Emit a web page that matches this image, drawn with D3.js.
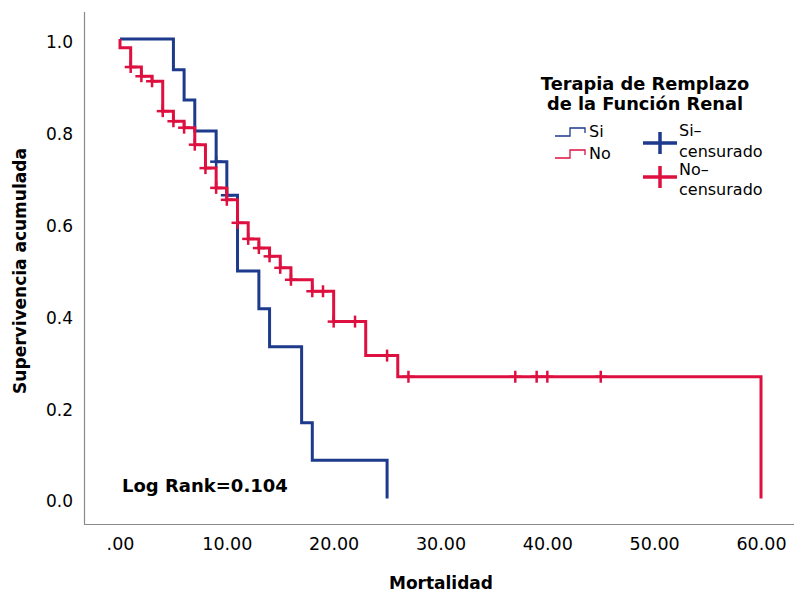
<!DOCTYPE html>
<html>
<head>
<meta charset="utf-8">
<script src="https://d3js.org/d3.v7.min.js"></script>
<style>
body { margin: 0; background: #fff; }
text { font-family: "DejaVu Sans", sans-serif; fill: #000; }
</style>
</head>
<body>
<script>
// Kaplan-Meier, Terapia de Remplazo de la Función Renal
var siTimes = [0, 5, 6, 7, 9, 10, 11, 13, 14, 17, 18, 25];
var siSurv  = [1, 0.933, 0.867, 0.8, 0.733, 0.66, 0.495, 0.413, 0.33, 0.165, 0.083, 0];
var siCens  = [9, 10];

var noTimes = [0, 0, 1, 2, 3, 4, 5, 6, 7, 8, 9, 10, 11, 12, 13, 14, 15, 16, 18, 20, 23, 26, 60];
var noSurv  = [1, 0.981, 0.939, 0.919, 0.908, 0.843, 0.821, 0.807, 0.770, 0.719, 0.676, 0.650, 0.600, 0.565, 0.545, 0.527, 0.502, 0.476, 0.451, 0.385, 0.311, 0.265, 0];
var noCens  = [1, 2, 3, 4, 5, 6, 7, 8, 9, 10, 11, 12, 13, 14, 15, 16, 18, 19, 20, 22, 25, 27, 37, 39, 40, 45];

var xTicks = [0, 10, 20, 30, 40, 50, 60];
var yTicks = [0, 0.2, 0.4, 0.6, 0.8, 1.0];
var groups = ["Si", "No"];
var censLabels = [["Si\u2013", "censurado"], ["No\u2013", "censurado"]];
var colors = ["#1d3a8c", "#dd1040"];

const W = 794, H = 593;
const svg = d3.select("body").append("svg")
  .attr("width", W).attr("height", H);

var x = d3.scaleLinear().domain([0, 60]).range([120, 761]);
var y = d3.scaleLinear().domain([0, 1]).range([498.5, 39]);

// axis frame (left + bottom)
svg.append("line").attr("x1", 84.5).attr("x2", 84.5).attr("y1", 12).attr("y2", 524.5)
  .attr("stroke", "#8a8a8a").attr("stroke-width", 1.2);
svg.append("line").attr("x1", 84).attr("x2", W).attr("y1", 524.5).attr("y2", 524.5)
  .attr("stroke", "#8a8a8a").attr("stroke-width", 1.2);

// tick labels
var xAxis = d3.axisBottom(x).tickValues(xTicks).tickSize(0).tickPadding(0)
  .tickFormat(function(d) { return d === 0 ? ".00" : d3.format(".2f")(d); });
var gx = svg.append("g").attr("transform", "translate(0,538)").call(xAxis);
gx.select(".domain").remove();
gx.selectAll("text").style("font-family", "DejaVu Sans").style("font-size", "17.5px").attr("fill", "#111");

var yAxis = d3.axisLeft(y).tickValues(yTicks).tickSize(0).tickPadding(0)
  .tickFormat(d3.format(".1f"));
var gy = svg.append("g").attr("transform", "translate(73,3)").call(yAxis);
gy.select(".domain").remove();
gy.selectAll("text").style("font-family", "DejaVu Sans").style("font-size", "17px").attr("fill", "#111");

// axis titles
svg.append("text").attr("x", 441).attr("y", 589).attr("text-anchor", "middle")
  .style("font-size", "17px").style("font-weight", "bold").text("Mortalidad");
svg.append("text").attr("transform", "translate(26,271) rotate(-90)").attr("text-anchor", "middle")
  .style("font-size", "17px").style("font-weight", "bold").text("Supervivencia acumulada");

// step curves
var line = d3.line().x(function(d) { return x(d[0]); }).y(function(d) { return y(d[1]); })
  .curve(d3.curveStepAfter);

function levelAt(times, surv, t) {
  var s = surv[0];
  for (var i = 0; i < times.length; i++) { if (times[i] <= t) s = surv[i]; }
  return s;
}

var series = [
  { times: siTimes, surv: siSurv, cens: siCens },
  { times: noTimes, surv: noSurv, cens: noCens }
];

series.forEach(function(s, k) {
  var pts = s.times.map(function(t, i) { return [t, s.surv[i]]; });
  svg.append("path").attr("d", line(pts)).attr("fill", "none")
    .attr("stroke", colors[k]).attr("stroke-width", 3);
  var g = svg.append("g").attr("stroke", colors[k]).attr("stroke-width", 2.5);
  s.cens.forEach(function(t) {
    var cx = x(t), cy = y(levelAt(s.times, s.surv, t));
    g.append("line").attr("x1", cx - 6).attr("x2", cx + 6).attr("y1", cy).attr("y2", cy);
    g.append("line").attr("x1", cx).attr("x2", cx).attr("y1", cy - 6).attr("y2", cy + 6);
  });
});

// log rank
svg.append("text").attr("x", 122).attr("y", 492)
  .style("font-size", "18px").style("font-weight", "bold").text("Log Rank=0.104");

// legend
var leg = svg.append("g");
leg.append("text").attr("x", 645).attr("y", 90).attr("text-anchor", "middle")
  .style("font-size", "17.8px").style("font-weight", "bold").text("Terapia de Remplazo");
leg.append("text").attr("x", 645).attr("y", 110).attr("text-anchor", "middle")
  .style("font-size", "17.8px").style("font-weight", "bold").text("de la Funci\u00f3n Renal");

groups.forEach(function(gname, i) {
  var yy = 136 + i * 22;
  leg.append("path")
    .attr("d", "M555," + yy + "H570V" + (yy - 8) + "H585V" + (yy - 3))
    .attr("fill", "none").attr("stroke", colors[i]).attr("stroke-width", 1.3);
  leg.append("text").attr("x", 589).attr("y", yy + 1).style("font-size", "16px").text(gname);
});

censLabels.forEach(function(lab, i) {
  var cy = 143 + i * 34;
  leg.append("line").attr("x1", 643).attr("x2", 677).attr("y1", cy).attr("y2", cy)
    .attr("stroke", colors[i]).attr("stroke-width", 3.5);
  leg.append("line").attr("x1", 660).attr("x2", 660).attr("y1", cy - 11).attr("y2", cy + 11)
    .attr("stroke", colors[i]).attr("stroke-width", 3.5);
  leg.append("text").attr("x", 679).attr("y", 136 + i * 39).style("font-size", "16px").text(lab[0]);
  leg.append("text").attr("x", 679).attr("y", 157 + i * 38).style("font-size", "16px").text(lab[1]);
});
</script>
</body>
</html>
